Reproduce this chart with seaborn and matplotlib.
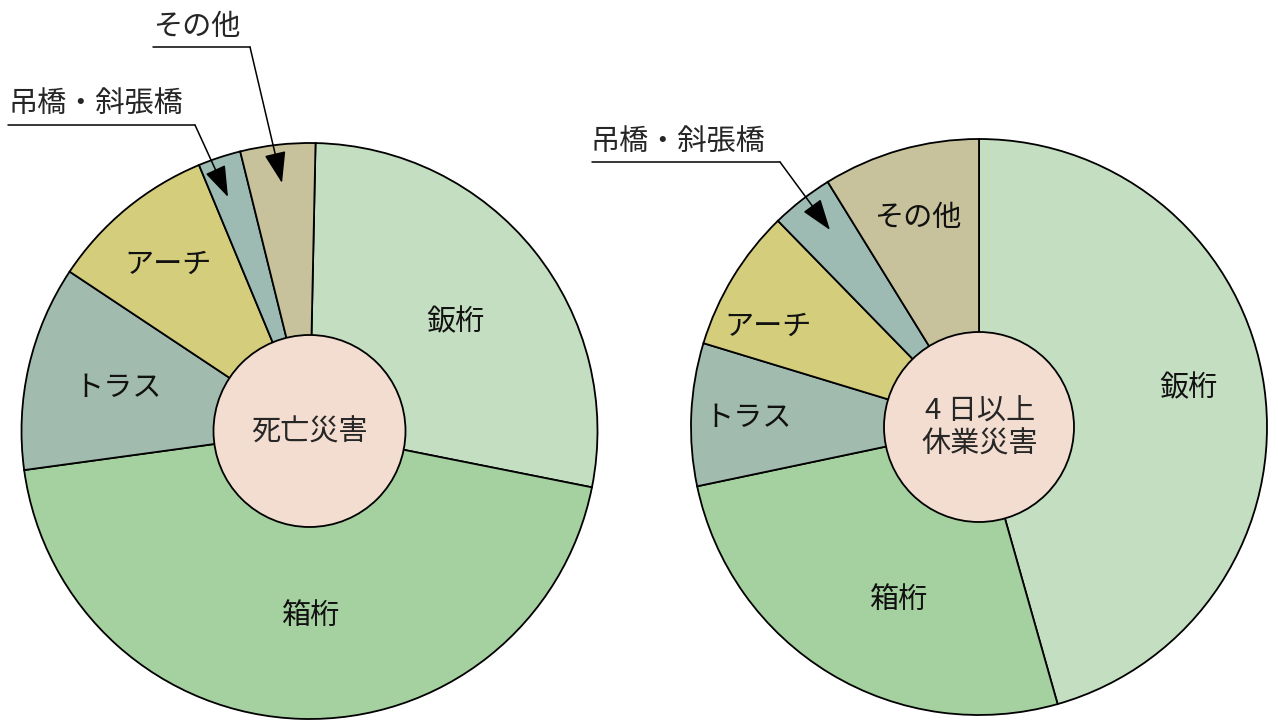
import matplotlib
matplotlib.use("Agg")
import matplotlib.pyplot as plt
import seaborn as sns
from matplotlib.patches import Circle

sns.set_theme(style="white")
plt.rcParams['font.family'] = ['Noto Sans CJK JP', 'DejaVu Sans']

# ---- data ----
categories = ["鈑桁", "箱桁", "トラス", "アーチ", "吊橋・斜張橋", "その他"]
fatal_share = [27.8, 44.7, 11.5, 9.4, 2.4, 4.2]          # 死亡災害 (%)
lost4_share = [45.6, 26.1, 8.0, 8.0, 3.5, 8.8]           # 4日以上休業災害 (%)
center_labels = ["死亡災害", "4 日以上\n休業災害"]

colors = ["#c4dec1", "#a5d09f", "#a2bbaf", "#d4cd7c", "#9dbbb3", "#c7c29c"]
center_color = "#f2ddd0"

W, H = 1278, 721
fig = plt.figure(figsize=(W / 100, H / 100), dpi=100)
ax = fig.add_axes([0, 0, 1, 1])

def py(y):  # convert from top-down pixel to data y
    return H - y

pies = [
    dict(vals=fatal_share, c=(309.5, 431), r=288, start=88.8, rin=96),
    dict(vals=lost4_share, c=(979, 427), r=288, start=90.0, rin=95),
]

for p in pies:
    ax.pie(p["vals"], colors=colors, startangle=p["start"], counterclock=False,
           center=(p["c"][0], py(p["c"][1])), radius=p["r"],
           wedgeprops=dict(edgecolor="black", linewidth=1.3))
    ax.add_patch(Circle((p["c"][0], py(p["c"][1])), p["rin"], facecolor=center_color,
                        edgecolor="black", linewidth=1.3, zorder=5))

fs = 21
# category labels inside the wedges (layout positions, pixels)
left_lbl = {"鈑桁": (455, 322), "箱桁": (310, 616), "トラス": (118, 388), "アーチ": (168, 265)}
right_lbl = {"鈑桁": (1188, 388), "箱桁": (898, 600), "トラス": (748, 418),
             "アーチ": (768, 327), "その他": (918, 218)}
for lbls in (left_lbl, right_lbl):
    for name, (x, y) in lbls.items():
        ax.text(x, py(y), name, ha="center", va="center", fontsize=fs, color="#111111", zorder=6)

# center labels
ax.text(309, py(433), center_labels[0], ha="center", va="center", fontsize=fs, zorder=7)
ax.text(980, py(428), center_labels[1], ha="center", va="center", fontsize=fs,
        linespacing=1.1, zorder=7)

# callouts: label text, text pos, underline (x0, x1, y), arrow tip
callouts = [
    ("その他", (197, 27), (153, 250, 47), (282, 183)),
    ("吊橋・斜張橋", (96, 104), (8, 195, 125), (228, 197)),
    ("吊橋・斜張橋", (678, 142), (592, 780, 162), (830, 230)),
]
for txt, (tx, ty), (x0, x1, uy), (ax_, ay_) in callouts:
    ax.text(tx, py(ty), txt, ha="center", va="center", fontsize=fs, zorder=8)
    ax.plot([x0, x1], [py(uy), py(uy)], color="black", lw=1.1, zorder=8)
    ax.annotate("", xy=(ax_, py(ay_)), xytext=(x1, py(uy)),
                arrowprops=dict(arrowstyle="-|>,head_length=1.3,head_width=0.45",
                                color="black", lw=1.1, mutation_scale=15,
                                shrinkA=0, shrinkB=0), zorder=9)

ax.set_xlim(0, W)
ax.set_ylim(0, H)
ax.set_aspect("equal")
ax.axis("off")
fig.savefig("out.png", dpi=100, facecolor="white")
